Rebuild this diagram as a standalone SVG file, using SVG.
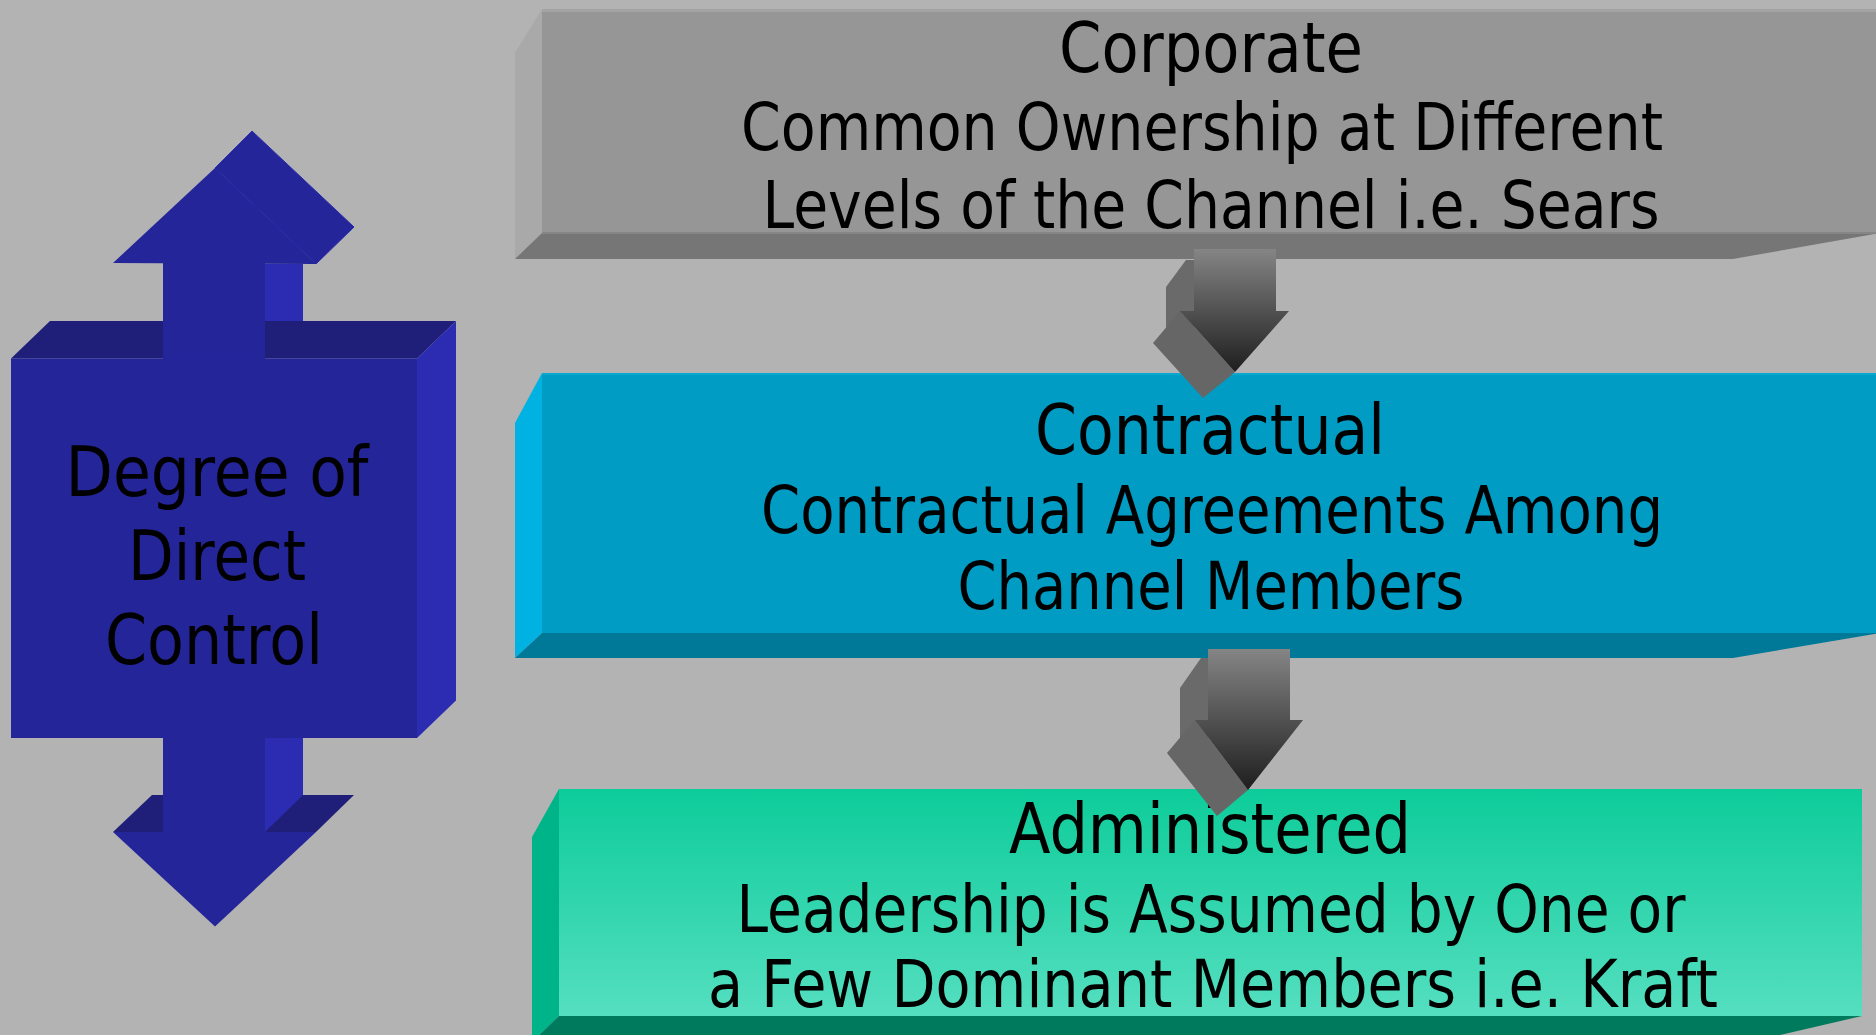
<svg xmlns="http://www.w3.org/2000/svg" width="1876" height="1035" viewBox="0 0 1876 1035">
<defs>
<linearGradient id="gArrow" x1="0" y1="0" x2="0" y2="1">
<stop offset="0" stop-color="#858585"/>
<stop offset="1" stop-color="#1e1e1e"/>
</linearGradient>
<linearGradient id="gAdmin" x1="0" y1="0" x2="0" y2="1">
<stop offset="0" stop-color="#0dcc9a"/>
<stop offset="1" stop-color="#55dfc0"/>
</linearGradient>
<style>
text{font-family:"DejaVu Sans","Liberation Sans",sans-serif;fill:#000;text-anchor:middle}
.t{font-size:70px}
.s{font-size:65px}
.bf{fill:#25259a}
.br{fill:#2c2cb2}
.bt{fill:#1f1f7a}
.side{fill:#6a6a6a}
.head{fill:#666666}
</style>
</defs>
<rect x="0" y="0" width="1876" height="1035" fill="#b3b3b3"/>

<g id="control">
<polygon class="bf" points="215,168 252,131 354,227 316,264" stroke="#2b2bae" stroke-width="1"/>
<polygon class="br" points="265,264 303,264 303,321 265,358.5"/>
<polygon class="bt" points="11,358.5 50,321 456,321 417,358.5"/>
<rect class="bf" x="163" y="262" width="102" height="97"/>
<polygon class="bf" points="113,263 215,168 316,264"/>
<polygon class="br" points="417,358.5 456,321 456,700.5 417,738"/>
<polygon class="bt" points="113,832 152,795 354,795 316,832"/>
<polygon class="br" points="265,700 303,700 303,795 265,832"/>
<rect class="bf" x="11" y="358.5" width="406" height="379.5"/>
<rect class="bf" x="163" y="737" width="102" height="96"/>
<polygon class="bf" points="113,832 316,832 215,926.5"/>
<text class="t" x="217" y="496" textLength="303" lengthAdjust="spacingAndGlyphs">Degree of</text>
<text class="t" x="217" y="580" textLength="178" lengthAdjust="spacingAndGlyphs">Direct</text>
<text class="t" x="214" y="664" textLength="218" lengthAdjust="spacingAndGlyphs">Control</text>
</g>

<g id="corporate">
<polygon points="515,53 542,9 542,233 515,259" fill="#a9a9a9"/>
<polygon points="515,259 542,233 1880,233 1733,259" fill="#767676"/>
<rect x="542" y="9" width="1340" height="224" fill="#969696"/>
<rect x="542" y="9" width="1340" height="3" fill="#a3a3a3"/>
<rect x="542" y="232" width="1340" height="2" fill="#868686"/>
<text class="t" x="1211" y="72" textLength="304" lengthAdjust="spacingAndGlyphs">Corporate</text>
<text class="s" x="1202" y="150" textLength="922" lengthAdjust="spacingAndGlyphs">Common Ownership at Different</text>
<text class="s" x="1211" y="228" textLength="897" lengthAdjust="spacingAndGlyphs">Levels of the Channel i.e. Sears</text>
</g>

<g id="contractual">
<polygon points="515,423 542,373 542,633 515,658" fill="#00b2e2"/>
<polygon points="515,658 542,633 1880,633 1733,658" fill="#007898"/>
<rect x="542" y="373" width="1340" height="260" fill="#009cc4"/>
<rect x="542" y="373" width="1340" height="2" fill="#0aa8d0"/>
<text class="t" x="1210" y="454" textLength="350" lengthAdjust="spacingAndGlyphs">Contractual</text>
<text class="s" x="1212" y="533" textLength="902" lengthAdjust="spacingAndGlyphs">Contractual Agreements Among</text>
<text class="s" x="1211" y="609" textLength="507" lengthAdjust="spacingAndGlyphs">Channel Members</text>
</g>

<g id="administered">
<polygon points="532,837 559,789 559,1016 532,1042" fill="#00b489"/>
<polygon points="532,1042 559,1016 1862,1016 1750,1042" fill="#007a5c"/>
<rect x="559" y="789" width="1303" height="227" fill="url(#gAdmin)"/>
<text class="t" x="1210" y="853" textLength="402" lengthAdjust="spacingAndGlyphs">Administered</text>
<text class="s" x="1211" y="932" textLength="949" lengthAdjust="spacingAndGlyphs">Leadership is Assumed by One or</text>
<text class="s" x="1213" y="1007" textLength="1010" lengthAdjust="spacingAndGlyphs">a Few Dominant Members i.e. Kraft</text>
</g>

<g id="connectors">
<g id="arrow1">
<polygon class="side" points="1186,260 1194,260 1194,330 1166,330 1166,287"/>
<polygon class="head" points="1180,311 1235,372 1203,398 1153,343"/>
<polygon fill="url(#gArrow)" points="1194,249 1276,249 1276,311 1289,311 1235,372 1180,311 1194,311"/>
</g>
<g id="arrow2">
<polygon class="side" points="1201,658 1208,658 1208,740 1180,740 1180,688"/>
<polygon class="head" points="1195,720 1248,790 1217,816 1167,753"/>
<polygon fill="url(#gArrow)" points="1208,649 1290,649 1290,720 1303,720 1248,790 1195,720 1208,720"/>
</g>
</g>
</svg>
